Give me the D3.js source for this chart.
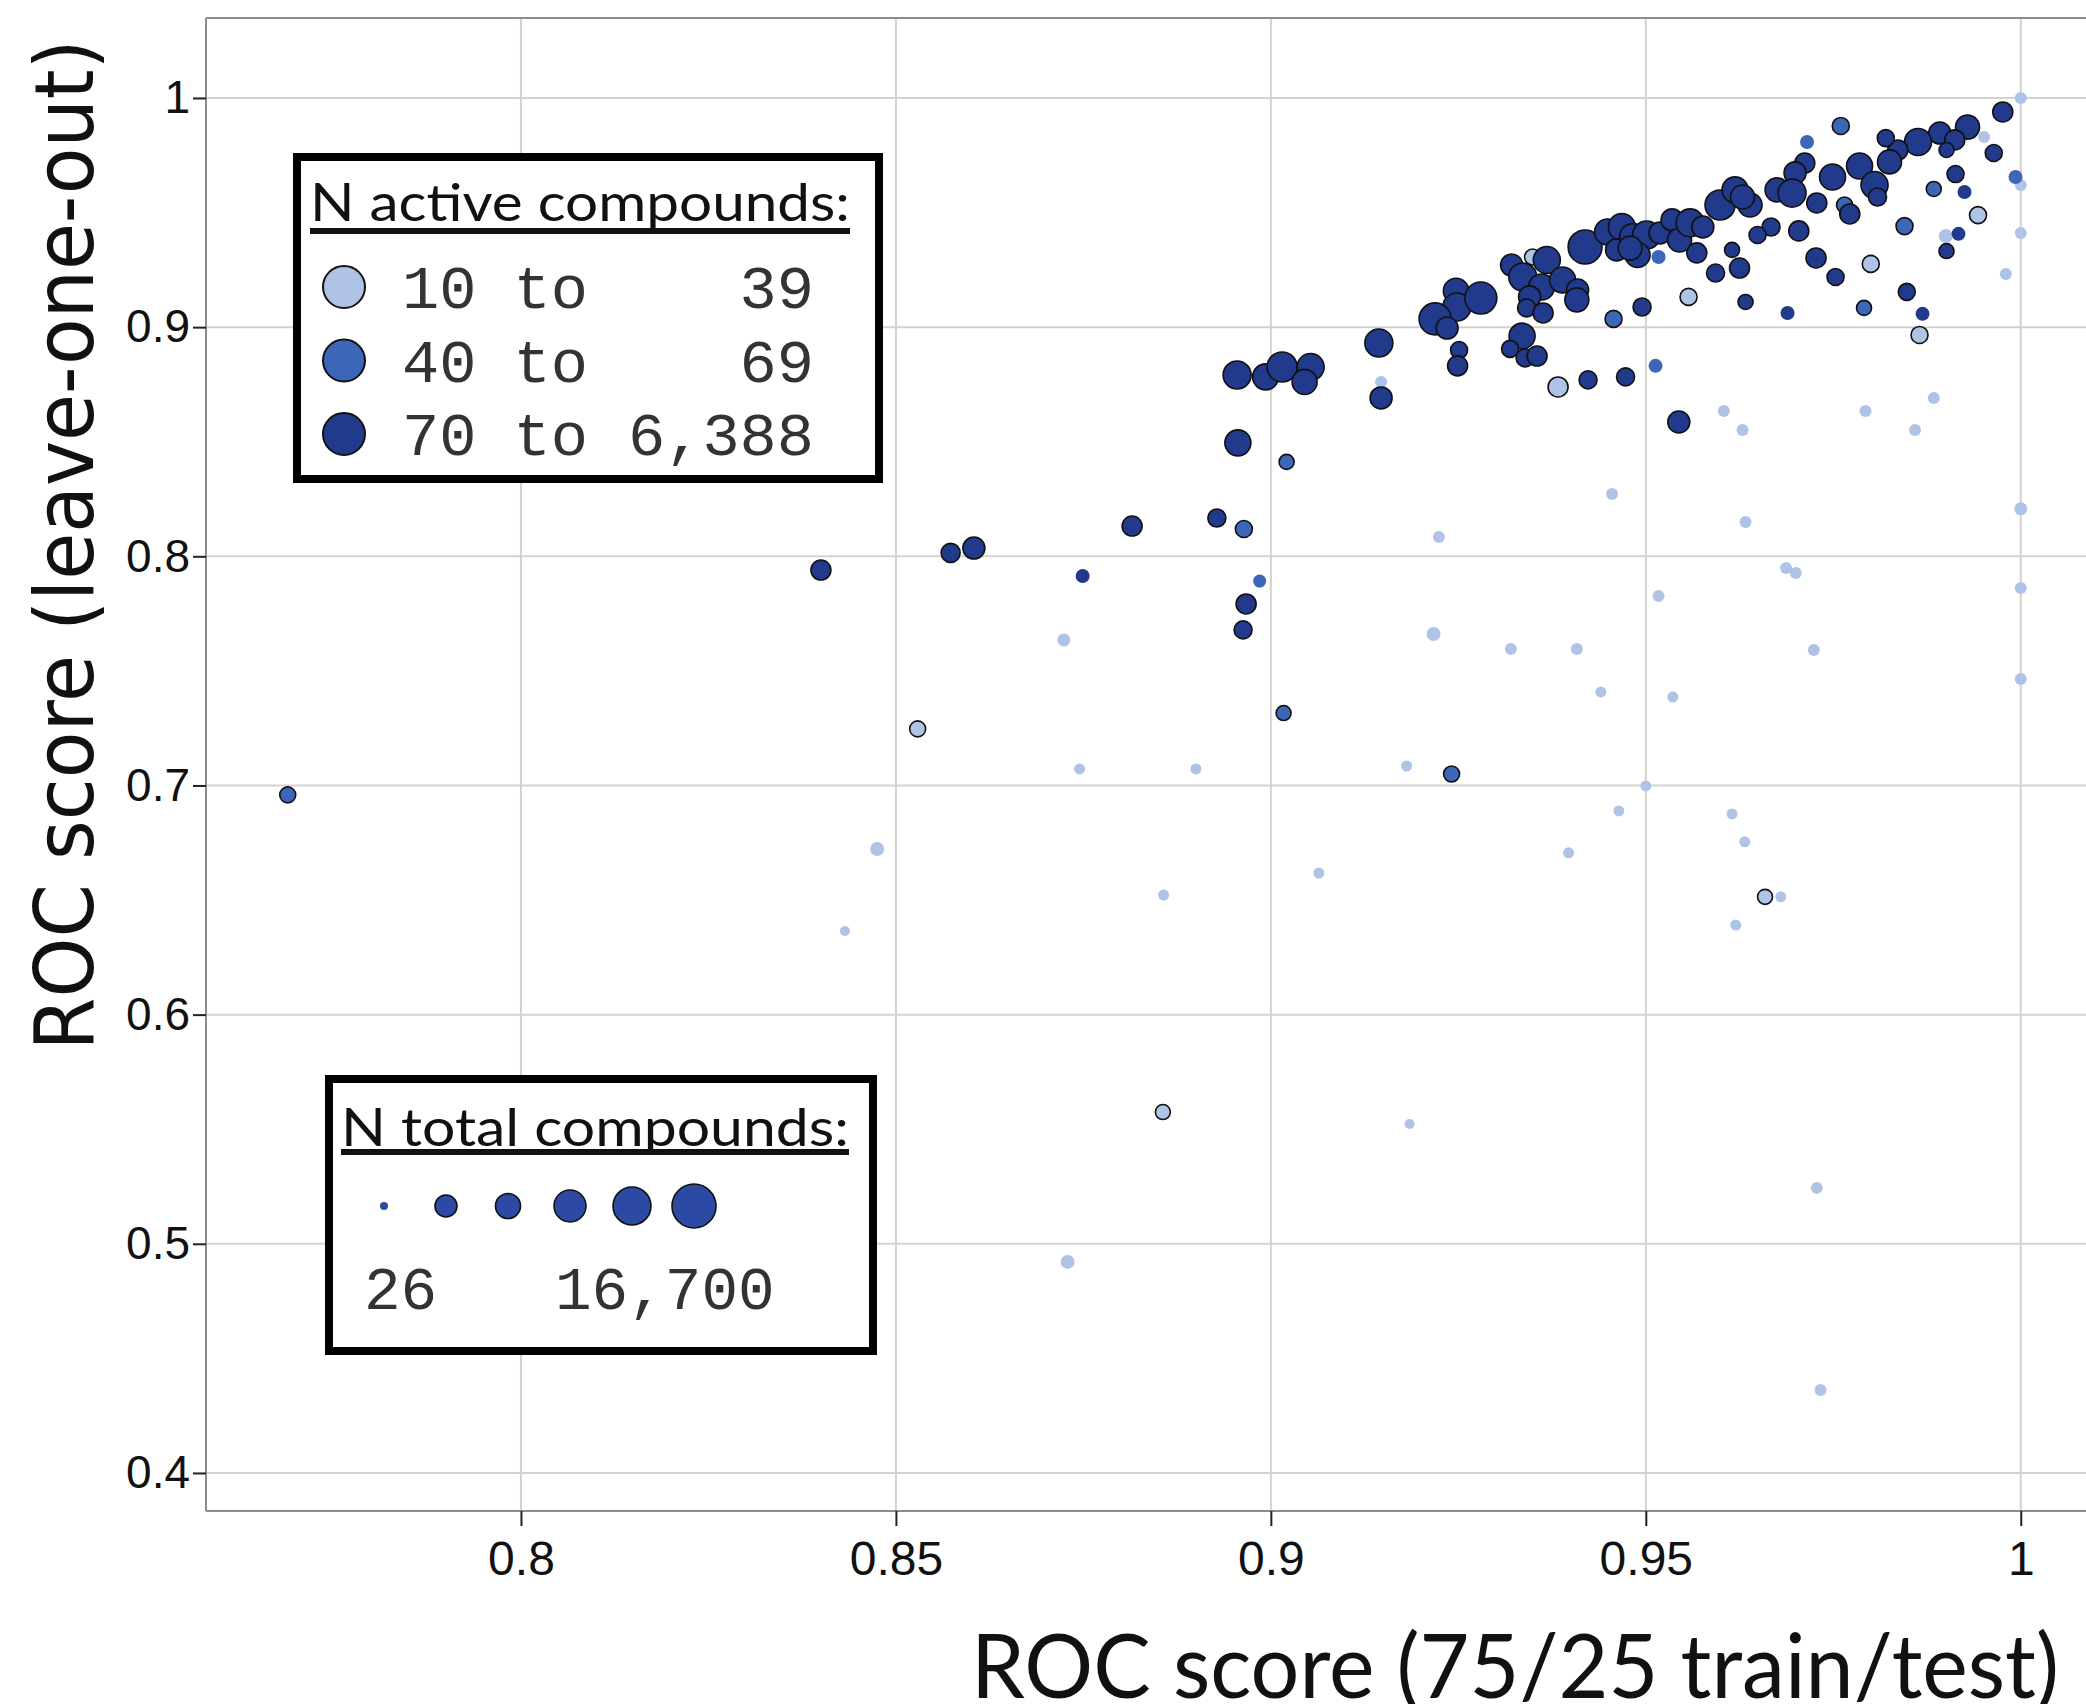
<!DOCTYPE html>
<html>
<head>
<meta charset="utf-8" />
<style>
  body { margin: 0; background: #fff; }
  svg { display: block; }
</style>
</head>
<body>
<svg id="chart" width="2086" height="1704"></svg>
<script src="https://cdnjs.cloudflare.com/ajax/libs/d3/7.8.5/d3.min.js"></script>
<script>
// tick values
var xTicks = [0.8, 0.85, 0.9, 0.95, 1];
var yTicks = [0.4, 0.5, 0.6, 0.7, 0.8, 0.9, 1];

// ROC score, 75/25 train/test split
var rocSplit = [
  0.9247, 0.9248, 0.9280, 0.9219, 0.9235, 0.9144, 0.9251, 0.9249, 0.8955, 0.8993,
  0.9015, 0.9053, 0.9045, 0.9147, 0.9147, 0.8956, 0.9021, 0.8928, 0.8964, 0.9224,
  0.8985, 0.8967, 0.8963, 0.9217, 0.9321, 0.9336, 0.9368, 0.9349, 0.9361, 0.9389,
  0.9409, 0.9408, 0.9345, 0.9341, 0.9363, 0.9335, 0.9319, 0.9339, 0.9355, 0.9383,
  0.9423, 0.9473, 0.9457, 0.9495, 0.9513, 0.9419, 0.9449, 0.9468, 0.9461, 0.9483,
  0.9501, 0.9489, 0.9479, 0.9517, 0.9519, 0.9535, 0.9545, 0.9559, 0.9576, 0.9568,
  0.9599, 0.9619, 0.9639, 0.9629, 0.9675, 0.9667, 0.9649, 0.9615, 0.9593, 0.9625,
  0.9557, 0.9633, 0.9976, 1.0000, 0.9929, 0.9892, 0.9912, 0.9901, 0.9863, 0.9836,
  0.9820, 0.9825, 0.9951, 0.9760, 0.9715, 0.9964, 0.9993, 1.0000, 0.9712, 0.9699,
  0.9695, 0.9728, 0.9749, 0.9785, 0.9805, 0.9809, 0.9765, 0.9772, 0.9913, 0.9925,
  0.9884, 0.9943, 0.9845, 0.9704, 0.9900, 0.9917, 0.9901, 1.0000, 0.9727, 0.9800,
  0.9753, 0.9980, 0.9848, 0.9791, 0.9689, 0.9869, 0.9865, 0.9884, 0.9793, 0.9859,
  1.0000, 0.9687, 0.9700, 1.0000, 0.9544, 0.9604, 0.9629, 0.9455, 0.9633, 0.9517,
  0.8815, 0.8749, 0.8724, 0.9320, 0.9408, 0.9724, 0.9440, 0.9536, 1.0000, 0.9017,
  0.8745, 0.8900, 0.9181, 0.9241, 0.9500, 0.9464, 0.9615, 0.9632, 0.9397, 0.9064,
  0.8857, 0.9659, 0.9680, 0.9620, 0.8604, 0.8573, 0.8400, 0.7689, 0.8529, 0.8475,
  0.8432, 0.8856, 0.9185, 0.8729, 0.9728, 0.9733
];

// ROC score, leave-one-out
var rocLoo = [
  0.9158, 0.9088, 0.9127, 0.9036, 0.8996, 0.8931, 0.8900, 0.8831, 0.8791, 0.8783,
  0.8826, 0.8826, 0.8761, 0.8761, 0.8691, 0.8495, 0.8412, 0.8167, 0.8119, 0.8084,
  0.7892, 0.7792, 0.7679, 0.7661, 0.9271, 0.9219, 0.9293, 0.9306, 0.9175, 0.9206,
  0.9162, 0.9119, 0.9132, 0.9084, 0.9062, 0.8961, 0.8905, 0.8866, 0.8874, 0.8739,
  0.8770, 0.8783, 0.9036, 0.9088, 0.8831, 0.9350, 0.9415, 0.9437, 0.9337, 0.9393,
  0.9402, 0.9315, 0.9345, 0.9306, 0.9411, 0.9468, 0.9380, 0.9455, 0.9437, 0.9324,
  0.9533, 0.9599, 0.9533, 0.9568, 0.9599, 0.9437, 0.9402, 0.9337, 0.9236, 0.9258,
  0.9132, 0.9110, 0.9939, 1.0000, 0.9873, 0.9847, 0.9817, 0.9773, 0.9808, 0.9773,
  0.9825, 0.9721, 0.9830, 0.9878, 0.9808, 0.9760, 0.9655, 0.9620, 0.9716, 0.9673,
  0.9585, 0.9542, 0.9655, 0.9703, 0.9620, 0.9568, 0.9533, 0.9494, 0.9668, 0.9590,
  0.9603, 0.9489, 0.9441, 0.9420, 0.9398, 0.9407, 0.9332, 0.9411, 0.9302, 0.9276,
  0.9219, 0.9232, 0.9154, 0.9084, 0.9062, 0.9058, 0.8966, 0.8691, 0.8634, 0.8551,
  0.8207, 0.7949, 0.7927, 0.7862, 0.8586, 0.8634, 0.8551, 0.8272, 0.8150, 0.7827,
  0.8132, 0.7914, 0.7635, 0.7596, 0.7596, 0.7591, 0.7408, 0.7386, 0.7465, 0.7316,
  0.7072, 0.7072, 0.7085, 0.7050, 0.6998, 0.6889, 0.6876, 0.6754, 0.6706, 0.6618,
  0.6522, 0.6514, 0.6514, 0.6391, 0.8036, 0.8015, 0.7940, 0.6959, 0.7247, 0.6723,
  0.6365, 0.5575, 0.5523, 0.4921, 0.5244, 0.4362
];

// 0 = 10 to 39, 1 = 40 to 69, 2 = 70 to 6,388 active compounds
var activeClass = [
  2, 2, 2, 2, 2, 2, 2, 2, 2, 2,
  2, 2, 2, 0, 2, 2, 1, 2, 1, 0,
  1, 2, 2, 0, 2, 2, 2, 0, 2, 2,
  2, 2, 2, 2, 2, 2, 2, 2, 2, 0,
  2, 2, 1, 2, 1, 2, 2, 2, 2, 2,
  2, 2, 2, 1, 2, 2, 2, 2, 2, 2,
  2, 2, 2, 2, 2, 2, 2, 2, 2, 2,
  0, 2, 2, 0, 2, 2, 2, 2, 2, 2,
  2, 2, 0, 1, 1, 2, 1, 0, 2, 2,
  2, 2, 2, 2, 2, 2, 1, 2, 2, 2,
  1, 0, 1, 2, 0, 2, 2, 0, 2, 0,
  2, 0, 2, 1, 2, 2, 0, 0, 0, 0,
  0, 0, 0, 0, 2, 0, 0, 0, 0, 0,
  2, 2, 0, 0, 0, 0, 0, 0, 0, 1,
  0, 0, 0, 1, 0, 0, 0, 0, 0, 0,
  0, 0, 0, 0, 2, 2, 2, 1, 0, 0,
  0, 0, 0, 0, 0, 0
];

// N total compounds per target
var totalCompounds = [
  3380, 4508, 6546, 6546, 2160, 4508, 855, 1566, 4508, 3634,
  5480, 4060, 3230, 144, 2160, 3634, 500, 1067, 855, 144,
  238, 1566, 1067, 357, 2160, 4508, 4060, 664, 3634, 3634,
  2160, 2850, 2160, 1067, 1566, 3634, 855, 1067, 1566, 1566,
  1067, 1067, 855, 1067, 357, 7700, 3634, 4060, 2160, 4060,
  4508, 3230, 2850, 357, 2160, 2160, 2850, 4508, 2160, 1566,
  5480, 3634, 2850, 2850, 2850, 1067, 855, 500, 1067, 1566,
  855, 500, 1566, 144, 2850, 2160, 1566, 500, 4060, 1566,
  855, 2850, 144, 855, 357, 855, 357, 144, 1566, 2160,
  4508, 1566, 3634, 3634, 4060, 1067, 664, 1566, 855, 357,
  500, 855, 855, 1566, 357, 357, 500, 144, 1566, 855,
  855, 144, 855, 500, 357, 357, 855, 144, 144, 144,
  238, 144, 144, 144, 2160, 144, 144, 144, 144, 144,
  1566, 357, 238, 144, 144, 144, 73, 73, 144, 500,
  73, 73, 73, 664, 73, 73, 73, 73, 73, 73,
  73, 500, 73, 73, 2160, 1300, 1566, 664, 664, 357,
  26, 500, 26, 357, 144, 144
];

var activeLabels = [['10 to', '39'], ['40 to', '69'], ['70 to', '6,388']];
var sizeSamples = [26, 2850, 4060, 7700, 11770, 16700];
var sizeLabels = ['26', '16,700'];

var colors = ['#aec3e6', '#3c66b8', '#223a8c'];
var sizeColor = '#2c4aa4';

var svg = d3.select('#chart');
var plotLeft = 206, plotTop = 18, plotBottom = 1511, plotRight = 2086;

var x = d3.scaleLinear().domain([0.758, 1.0087]).range([plotLeft, plotRight]);
var y = d3.scaleLinear().domain([0.3834, 1.0349]).range([plotBottom, plotTop]);
var r = d3.scaleSqrt().domain([26, 16700]).range([4, 22]);
var rPoint = d3.scaleSqrt().domain([26, 16700]).range([5, 23]);

// grid
var grid = svg.append('g');
grid.selectAll('.vgrid').data(xTicks).enter().append('line')
  .attr('class', 'vgrid')
  .attr('x1', function(d){ return x(d); })
  .attr('x2', function(d){ return x(d); })
  .attr('y1', plotTop).attr('y2', plotBottom)
  .attr('stroke', '#d3d3cc').attr('stroke-width', 2);
grid.selectAll('.hgrid').data(yTicks).enter().append('line')
  .attr('class', 'hgrid')
  .attr('y1', function(d){ return y(d); })
  .attr('y2', function(d){ return y(d); })
  .attr('x1', plotLeft).attr('x2', plotRight)
  .attr('stroke', '#d3d3cc').attr('stroke-width', 2);

// frame
var frame = svg.append('g').attr('stroke', '#8c8c8c').attr('stroke-width', 2);
frame.append('line').attr('x1', plotLeft).attr('x2', plotRight).attr('y1', plotTop).attr('y2', plotTop);
frame.append('line').attr('x1', plotLeft).attr('x2', plotLeft).attr('y1', plotTop).attr('y2', plotBottom);
frame.append('line').attr('x1', plotLeft).attr('x2', plotRight).attr('y1', plotBottom).attr('y2', plotBottom);

// axes
var xAxis = d3.axisBottom(x).tickValues(xTicks)
  .tickFormat(function(d){ return String(d); })
  .tickSizeInner(15).tickSizeOuter(0).tickPadding(15);
var gx = svg.append('g').attr('transform', 'translate(0,' + plotBottom + ')').call(xAxis);
gx.select('.domain').remove();
gx.selectAll('line').attr('stroke', '#222').attr('stroke-width', 2);
gx.selectAll('text')
  .attr('font-family', '"Liberation Sans", Arial, sans-serif')
  .attr('font-size', 48).attr('fill', '#111');

var yAxis = d3.axisLeft(y).tickValues(yTicks)
  .tickFormat(function(d){ return String(d); })
  .tickSizeInner(13).tickSizeOuter(0).tickPadding(3);
var gy = svg.append('g').attr('transform', 'translate(' + plotLeft + ',0)').call(yAxis);
gy.select('.domain').remove();
gy.selectAll('line').attr('stroke', '#222').attr('stroke-width', 2);
gy.selectAll('text')
  .attr('font-family', '"Liberation Sans", Arial, sans-serif')
  .attr('font-size', 46).attr('fill', '#111');

// points
var points = rocSplit.map(function(v, i){
  return { x: v, y: rocLoo[i], c: activeClass[i], n: totalCompounds[i] };
});
points.sort(function(a, b){ return a.c - b.c; });

svg.append('g').selectAll('circle').data(points).enter().append('circle')
  .attr('cx', function(d){ return x(d.x); })
  .attr('cy', function(d){ return y(d.y); })
  .attr('r', function(d){ return rPoint(d.n); })
  .attr('fill', function(d){ return colors[d.c]; })
  .attr('stroke', function(d){ return d.n >= 480 ? '#111' : 'none'; })
  .attr('stroke-width', 1.6);

// axis titles
svg.append('text')
  .attr('transform', 'translate(93,545) rotate(-90)')
  .attr('text-anchor', 'middle')
  .attr('font-family', '"DejaVu Sans", Verdana, sans-serif')
  .attr('font-size', 82)
  .attr('textLength', 1011).attr('lengthAdjust', 'spacingAndGlyphs')
  .attr('fill', '#111')
  .text('ROC score (leave-one-out)');

svg.append('text')
  .attr('x', 971).attr('y', 1698)
  .attr('font-family', 'Lato, "Open Sans", sans-serif')
  .attr('font-size', 90)
  .attr('textLength', 1088).attr('lengthAdjust', 'spacingAndGlyphs')
  .attr('fill', '#111')
  .text('ROC score (75/25 train/test)');

// legend: active compounds
var leg1 = svg.append('g');
leg1.append('rect').attr('x', 297).attr('y', 157).attr('width', 582).attr('height', 322)
  .attr('fill', '#fff').attr('stroke', '#000').attr('stroke-width', 8);
leg1.append('text').attr('x', 310).attr('y', 221)
  .attr('font-family', 'Lato, "Open Sans", sans-serif').attr('font-size', 53)
  .attr('textLength', 540).attr('lengthAdjust', 'spacingAndGlyphs')
  .attr('fill', '#111').text('N active compounds:');
leg1.append('line').attr('x1', 310).attr('x2', 850).attr('y1', 231).attr('y2', 231)
  .attr('stroke', '#111').attr('stroke-width', 6);
var rows = leg1.selectAll('.row').data(activeLabels).enter().append('g')
  .attr('transform', function(d, i){ return 'translate(0,' + (287 + i * 73.5) + ')'; });
rows.append('circle').attr('cx', 344).attr('cy', 0).attr('r', 21)
  .attr('fill', function(d, i){ return colors[i]; })
  .attr('stroke', '#111').attr('stroke-width', 2);
rows.append('text').attr('x', 402).attr('y', 21)
  .attr('font-family', '"Liberation Mono", "Courier New", monospace').attr('font-size', 62)
  .attr('fill', '#333').text(function(d){ return d[0]; });
rows.append('text').attr('x', 814).attr('y', 21).attr('text-anchor', 'end')
  .attr('font-family', '"Liberation Mono", "Courier New", monospace').attr('font-size', 62)
  .attr('fill', '#333').text(function(d){ return d[1]; });

// legend: total compounds
var leg2 = svg.append('g');
leg2.append('rect').attr('x', 329).attr('y', 1079).attr('width', 544).attr('height', 272)
  .attr('fill', '#fff').attr('stroke', '#000').attr('stroke-width', 8);
leg2.append('text').attr('x', 341).attr('y', 1146)
  .attr('font-family', 'Lato, "Open Sans", sans-serif').attr('font-size', 53)
  .attr('textLength', 508).attr('lengthAdjust', 'spacingAndGlyphs')
  .attr('fill', '#111').text('N total compounds:');
leg2.append('line').attr('x1', 341).attr('x2', 849).attr('y1', 1152).attr('y2', 1152)
  .attr('stroke', '#111').attr('stroke-width', 6);
leg2.selectAll('circle').data(sizeSamples).enter().append('circle')
  .attr('cx', function(d, i){ return 384 + i * 62; })
  .attr('cy', 1206)
  .attr('r', function(d){ return r(d); })
  .attr('fill', sizeColor)
  .attr('stroke', function(d){ return d >= 480 ? '#111' : 'none'; })
  .attr('stroke-width', 1.6);
leg2.append('text').attr('x', 364).attr('y', 1309)
  .attr('font-family', '"Liberation Mono", "Courier New", monospace').attr('font-size', 61)
  .attr('fill', '#333').text(sizeLabels[0]);
leg2.append('text').attr('x', 555).attr('y', 1309)
  .attr('font-family', '"Liberation Mono", "Courier New", monospace').attr('font-size', 61)
  .attr('fill', '#333').text(sizeLabels[1]);
</script>
</body>
</html>
